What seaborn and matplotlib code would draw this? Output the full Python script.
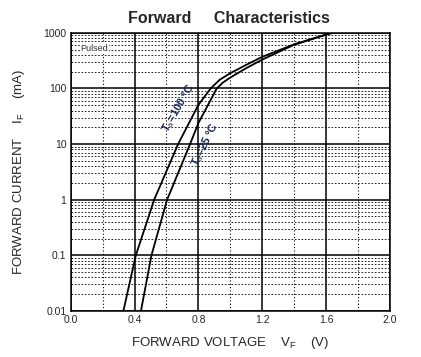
import matplotlib
matplotlib.use('Agg')
import matplotlib.pyplot as plt
import numpy as np
import pandas as pd
import seaborn as sns
from matplotlib.ticker import FixedLocator, NullFormatter, LogLocator

# values (mostly where curves cross grid lines)
current_100 = [0.01, 0.1, 1, 10, 50.7, 100, 143, 188, 266, 370, 621, 933, 1000]
voltage_100 = [0.33, 0.408, 0.523, 0.673, 0.80, 0.877, 0.933, 1.0, 1.1, 1.2, 1.4, 1.6, 1.64]
current_25 = [0.01, 0.1, 1, 10, 23.8, 100, 128, 157, 232, 330, 610, 925, 1000]
voltage_25 = [0.44, 0.506, 0.604, 0.748, 0.80, 0.915, 0.954, 1.0, 1.1, 1.2, 1.4, 1.6, 1.64]

x_ticks = [0.0, 0.4, 0.8, 1.2, 1.6, 2.0]
y_ticks = [0.01, 0.1, 1, 10, 100, 1000]
y_ticklabels = ['0.01', '0.1', '1', '10', '100', '1000']

df = pd.concat([
    pd.DataFrame({'V': voltage_100, 'I': current_100, 'T': '100'}),
    pd.DataFrame({'V': voltage_25, 'I': current_25, 'T': '25'}),
])

sns.set_style('white')
plt.rcParams['font.family'] = ['Liberation Sans', 'DejaVu Sans']
plt.rcParams['mathtext.fontset'] = 'custom'
plt.rcParams['mathtext.rm'] = 'Liberation Sans'
plt.rcParams['mathtext.it'] = 'Liberation Sans'

fig = plt.figure(figsize=(4.21, 3.57), dpi=100)
ax = fig.add_axes([0.168, 0.129, 0.758, 0.779])

sns.lineplot(data=df, x='V', y='I', units='T', estimator=None, sort=False,
             color='black', linewidth=1.3, ax=ax, legend=False,
             solid_joinstyle='round')

ax.set_yscale('log')
ax.set_xlim(0, 2.0)
ax.set_ylim(0.01, 1000)

ax.xaxis.set_major_locator(FixedLocator(x_ticks))
ax.set_xticklabels(['%.1f' % t for t in x_ticks])
ax.xaxis.set_minor_locator(FixedLocator([0.2, 0.6, 1.0, 1.4, 1.8]))
ax.yaxis.set_major_locator(FixedLocator(y_ticks))
ax.set_yticklabels(y_ticklabels)
ax.yaxis.set_minor_locator(LogLocator(base=10, subs=np.arange(2, 10)))
ax.yaxis.set_minor_formatter(NullFormatter())
ax.tick_params(which='both', length=0, labelsize=7.5, pad=3)

ax.grid(which='major', color='black', linewidth=1.1, linestyle='-')
ax.grid(which='minor', axis='x', color='black', linewidth=0.8, linestyle=(0, (1, 2)))
ax.grid(which='minor', axis='y', color='black', linewidth=0.6, linestyle=(0, (2, 2)))
ax.set_axisbelow(True)
for s in ax.spines.values():
    s.set_color('black')
    s.set_linewidth(1.1)

ax.set_xlabel('FORWARD VOLTAGE    V$_{\\mathrm{F}}$    (V)', fontsize=9.5, labelpad=7)
ax.set_ylabel('FORWARD CURRENT    I$_{\\mathrm{F}}$    (mA)', fontsize=9.5, labelpad=12)
fig.text(0.543, 0.948, 'Forward     Characteristics', ha='center', va='center',
         fontsize=11.5, fontweight='bold')

ax.text(0.03, 0.96, 'Pulsed', transform=ax.transAxes, fontsize=6.5, ha='left', va='top',
        color='#333333', bbox=dict(facecolor='white', edgecolor='none', pad=0.5))

label_color = '#1c2458'
ax.text(0.675, 45, 'T$_{\\mathrm{a}}$=100 °C', rotation=60, fontsize=8, fontweight='bold',
        color=label_color, ha='center', va='center')
ax.text(0.84, 10, 'T$_{\\mathrm{a}}$=25 °C', rotation=64, fontsize=8, fontweight='bold',
        color=label_color, ha='center', va='center')

fig.savefig('out.png', dpi=100)
